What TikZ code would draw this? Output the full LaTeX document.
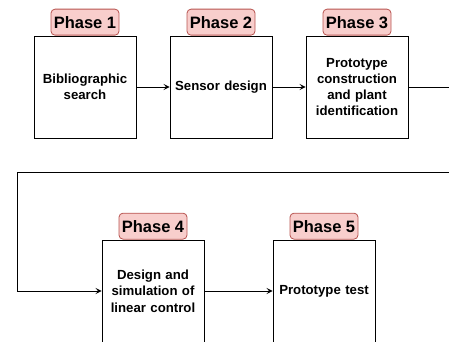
\documentclass[tikz,border=0pt]{standalone}
\usepackage{fontspec}
\setmainfont{Liberation Sans}
\usetikzlibrary{arrows.meta}
\definecolor{phfill}{HTML}{F8CECC}
\definecolor{phdraw}{HTML}{B85450}
\tikzset{
  stagebox/.style={draw=black, line width=0.9pt, fill=white, minimum width=102pt, minimum height=102pt,
    text width=92pt, align=center, inner sep=0pt,
    font=\bfseries\fontsize{13.2}{16.3}\selectfont},
  phaselabel/.style={draw=phdraw, line width=0.8pt, fill=phfill, rounded corners=4pt,
    minimum width=68pt, minimum height=26pt, inner sep=0pt, anchor=south,
    font=\bfseries\fontsize{16.5}{19}\selectfont},
  conn/.style={draw=black, line width=0.9pt, -{Stealth[length=6pt,width=6pt,inset=2.5pt]}},
  plain/.style={draw=black, line width=0.9pt}
}
\begin{document}
\begin{tikzpicture}[x=1pt,y=-1pt]
\useasboundingbox (0,0) rectangle (449,342);
\clip (0,0) rectangle (449,341.6);
\node[stagebox] (b1) at (85,87) {Bibliographic\\search};
\node[stagebox] (b2) at (221,87) {Sensor design};
\node[stagebox] (b3) at (357,87) {Prototype\\construction\\and plant\\identification};
\node[stagebox] (b4) at (153,291) {Design and\\simulation of\\linear control};
\node[stagebox] (b5) at (324,291) {Prototype test};
\node[phaselabel] (p1) at (b1.north) {Phase 1};
\node[phaselabel] (p2) at (b2.north) {Phase 2};
\node[phaselabel] (p3) at (b3.north) {Phase 3};
\node[phaselabel] (p4) at (b4.north) {Phase 4};
\node[phaselabel] (p5) at (b5.north) {Phase 5};
\coordinate (r1) at (452,87);
\coordinate (r2) at (452,172);
\coordinate (l1) at (17,172);
\draw[conn] (b1) -- (b2);
\draw[conn] (b2) -- (b3);
\draw[plain] (b3.east) -- (r1);
\draw[conn] (r2) -- (l1) |- (b4.west);
\draw[conn] (b4) -- (b5);
\end{tikzpicture}
\end{document}
